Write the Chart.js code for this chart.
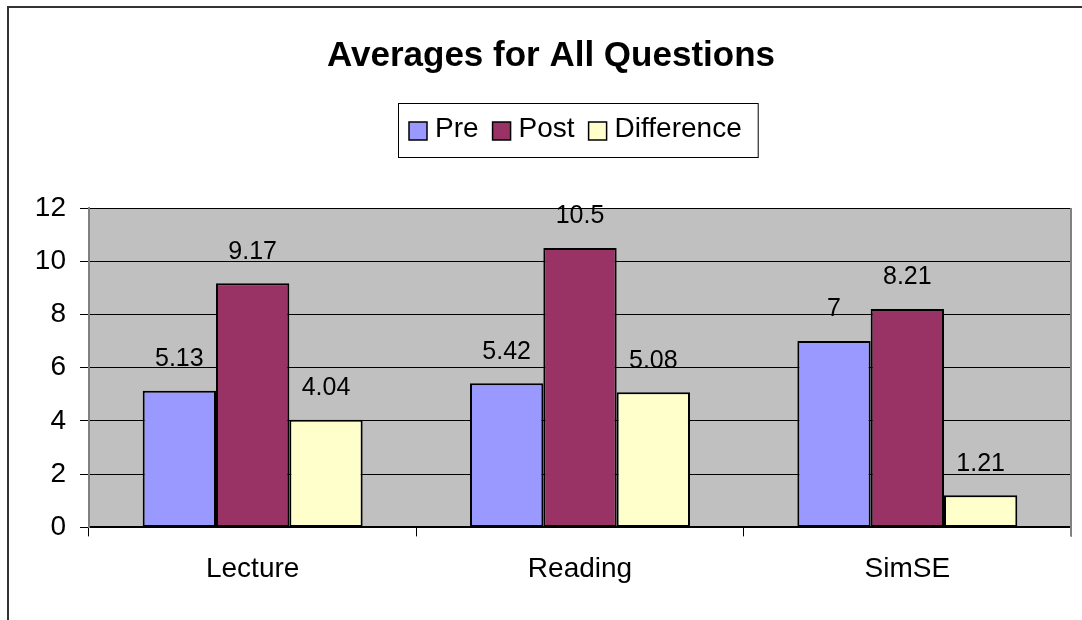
<!DOCTYPE html>
<html>
<head>
<meta charset="utf-8">
<title>Averages for All Questions</title>
<script src="https://cdn.jsdelivr.net/npm/chart.js@4.4.1/dist/chart.umd.min.js"></script>
<style>
  html, body { margin: 0; padding: 0; background: #fff; }
  #wrap { width: 1082px; height: 620px; }
</style>
</head>
<body>
<div id="wrap"><canvas id="avgChart" width="1082" height="620"></canvas></div>
<script>
// categories and series
const categories = ["Lecture", "Reading", "SimSE"];
const preValues = [5.13, 5.42, 7];
const postValues = [9.17, 10.5, 8.21];
const diffValues = [4.04, 5.08, 1.21];
const seriesNames = ["Pre", "Post", "Difference"];
const yTicks = [0, 2, 4, 6, 8, 10, 12];

const FONT = "Arial, 'Liberation Sans', sans-serif";

// gray plot background + right frame edge
const plotBackground = {
  id: "plotBackground",
  beforeDraw(chart) {
    const { ctx, chartArea: a } = chart;
    ctx.save();
    ctx.fillStyle = "#c0c0c0";
    ctx.fillRect(a.left, a.top, a.right - a.left, a.bottom - a.top);
    ctx.restore();
  },
  afterDraw(chart) {
    const { ctx, chartArea: a } = chart;
    ctx.save();
    ctx.strokeStyle = "#808080";
    ctx.lineWidth = 2;
    ctx.beginPath();
    ctx.moveTo(a.right, a.top);
    ctx.lineTo(a.right, a.bottom + 9);
    ctx.stroke();
    // outer frame (left + top)
    ctx.strokeStyle = "#333";
    ctx.lineWidth = 2;
    ctx.beginPath();
    ctx.moveTo(8, 620);
    ctx.lineTo(8, 7);
    ctx.lineTo(1082, 7);
    ctx.stroke();
    ctx.restore();
  }
};

// title and boxed legend
const titleLegend = {
  id: "titleLegend",
  afterDraw(chart) {
    const ctx = chart.ctx;
    ctx.save();
    ctx.fillStyle = "#000";
    ctx.textAlign = "center";
    ctx.textBaseline = "middle";
    ctx.font = "bold 35px " + FONT;
    ctx.fillText("Averages for All Questions", 551, 56);

    ctx.font = "28px " + FONT;
    ctx.textAlign = "left";
    const sw = 18, gapText = 8, gapItem = 14;
    let x = 409;
    const cy = 129;
    chart.data.datasets.forEach((ds, i) => {
      ctx.fillStyle = ds.backgroundColor;
      ctx.fillRect(x, cy - 7, sw, sw);
      ctx.strokeStyle = "#000";
      ctx.lineWidth = 1.5;
      ctx.strokeRect(x, cy - 7, sw, sw);
      x += sw + gapText;
      ctx.fillStyle = "#000";
      ctx.fillText(ds.label, x, cy);
      x += ctx.measureText(ds.label).width + gapItem;
    });
    ctx.strokeStyle = "#000";
    ctx.lineWidth = 1;
    ctx.strokeRect(398.5, 103.5, (x - gapItem + 16) - 398, 54);
    ctx.restore();
  }
};

// value labels above each bar
const barValues = {
  id: "barValues",
  afterDatasetsDraw(chart) {
    const ctx = chart.ctx;
    ctx.save();
    ctx.font = "25px " + FONT;
    ctx.fillStyle = "#000";
    ctx.textAlign = "center";
    ctx.textBaseline = "bottom";
    chart.data.datasets.forEach((ds, i) => {
      chart.getDatasetMeta(i).data.forEach((bar, j) => {
        ctx.fillText(String(ds.data[j]), bar.x, bar.y - 19);
      });
    });
    ctx.restore();
  }
};

const config = {
  type: "bar",
  data: {
    labels: categories,
    datasets: [
      { label: seriesNames[0], data: preValues, backgroundColor: "#9999ff" },
      { label: seriesNames[1], data: postValues, backgroundColor: "#993366" },
      { label: seriesNames[2], data: diffValues, backgroundColor: "#ffffcc" }
    ].map(d => Object.assign(d, {
      borderColor: "#000",
      borderWidth: 2,
      borderSkipped: false,
      categoryPercentage: 0.672,
      barPercentage: 1
    }))
  },
  options: {
    responsive: false,
    animation: false,
    layout: { padding: { top: 208, left: 0, right: 11, bottom: 18 } },
    plugins: {
      legend: { display: false },
      title: { display: false },
      tooltip: { enabled: false }
    },
    scales: {
      x: {
        grid: {
          offset: true,
          drawOnChartArea: false,
          drawTicks: true,
          tickLength: 9,
          color: "#000"
        },
        border: { color: "#000", width: 2 },
        ticks: { color: "#000", padding: 16, font: { size: 28, family: FONT } }
      },
      y: {
        min: 0,
        max: 12,
        afterFit(scale) { scale.width = 89; },
        afterBuildTicks(scale) { scale.ticks = yTicks.map(v => ({ value: v })); },
        grid: { color: "#000", lineWidth: 1, tickLength: 9 },
        border: { color: "#808080", width: 2 },
        ticks: { color: "#000", padding: 14, font: { size: 28, family: FONT } }
      }
    }
  },
  plugins: [plotBackground, titleLegend, barValues]
};

const ctx = document.getElementById("avgChart").getContext("2d");
const avgChart = new Chart(ctx, config);
</script>
</body>
</html>
